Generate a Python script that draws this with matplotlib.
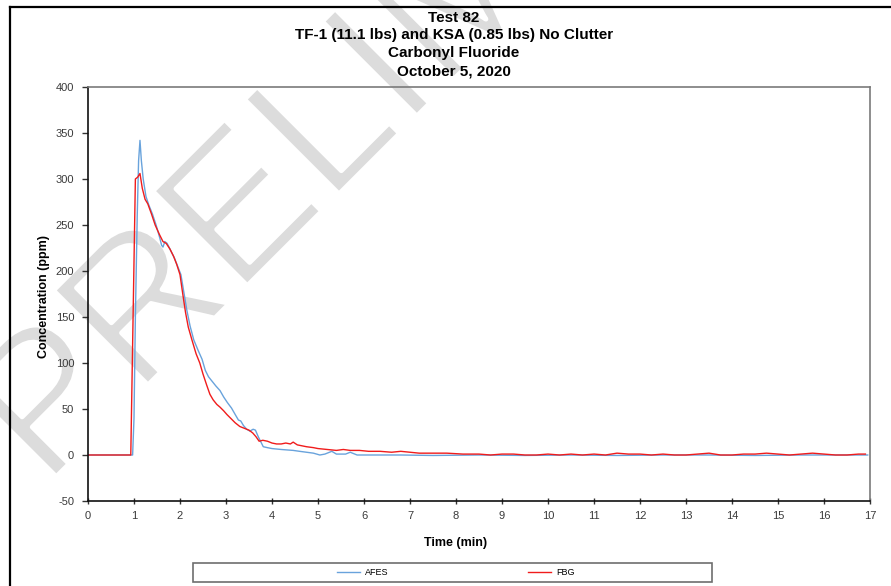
import matplotlib
matplotlib.use("Agg")
import matplotlib.pyplot as plt
import matplotlib.patheffects as pe
from matplotlib.lines import Line2D
from matplotlib.patches import Rectangle

plt.rcParams['font.family'] = ['Liberation Sans', 'DejaVu Sans']
plt.rcParams['axes.unicode_minus'] = False

TITLE_LINES = ["Test 82",
               "TF-1 (11.1 lbs) and KSA (0.85 lbs) No Clutter",
               "Carbonyl Fluoride",
               "October 5, 2020"]
X_LABEL = "Time (min)"
Y_LABEL = "Concentration (ppm)"
WATERMARK = "PRELIMINARY"

x_ticks = list(range(0, 18))
y_ticks = [-50, 0, 50, 100, 150, 200, 250, 300, 350, 400]

# AFES analyser, carbonyl fluoride (ppm) vs time (min)
afes_t = [0, 0.5, 0.97, 1.0, 1.03, 1.07, 1.1, 1.13, 1.16, 1.2, 1.26, 1.32, 1.4, 1.48,
          1.56, 1.6, 1.63, 1.67, 1.72, 1.8, 1.88, 1.95, 2.02, 2.08, 2.15, 2.22, 2.3,
          2.4, 2.48, 2.55, 2.62, 2.7, 2.78, 2.87, 2.95, 3.03, 3.12, 3.2, 3.27, 3.32,
          3.38, 3.45, 3.52, 3.59, 3.64, 3.7, 3.76, 3.81, 3.9, 4.0, 4.2, 4.46, 4.6,
          4.75, 4.9, 5.04, 5.15, 5.3, 5.4, 5.6, 5.7, 5.85, 6.2, 6.8, 7.5, 8.5, 9.5,
          10.5, 11.5, 12.5, 13.5, 14.5, 15.5, 16.5, 16.95]
afes_c = [0, 0, 0, 40, 150, 260, 320, 342, 320, 300, 281, 272, 262, 250,
          236, 228, 226, 232, 230, 222, 214, 205, 196, 178, 157, 140, 125,
          113, 104, 92, 85, 80, 75, 70, 63, 57, 51, 44, 38, 37,
          32, 28, 26, 28, 27, 20, 14, 9, 8, 7, 6, 5, 4,
          3, 2, 0, 1, 4, 1, 1, 3, 0, 0, 0, -0.5, 0, -0.5,
          0, -0.5, 0, 0, -0.5, 0, 0, 0]

# FBG analyser
fbg_t = [0, 0.5, 0.93, 0.98, 1.03, 1.08, 1.13, 1.18, 1.24, 1.3, 1.38, 1.46, 1.55,
         1.63, 1.7, 1.78, 1.86, 1.93, 2.0, 2.06, 2.12, 2.18, 2.26, 2.35, 2.43, 2.5,
         2.58, 2.65, 2.72, 2.8, 2.87, 2.95, 3.02, 3.1, 3.2, 3.3, 3.4, 3.5, 3.58,
         3.65, 3.72, 3.8, 3.9, 4.0, 4.1, 4.2, 4.3, 4.4, 4.46, 4.55, 4.65, 4.75,
         4.9, 5.0, 5.2, 5.4, 5.55, 5.7, 5.9, 6.1, 6.35, 6.6, 6.8, 7.0, 7.2, 7.5,
         7.8, 8.15, 8.5, 8.75, 9.0, 9.25, 9.5, 9.75, 10.0, 10.25, 10.5, 10.75,
         11.0, 11.25, 11.5, 11.75, 12.0, 12.25, 12.5, 12.75, 13.0, 13.25, 13.5,
         13.75, 14.0, 14.25, 14.5, 14.75, 15.0, 15.25, 15.5, 15.75, 16.0, 16.25,
         16.5, 16.75, 16.9]
fbg_c = [0, 0, 0, 150, 300, 302, 306, 290, 278, 273, 262, 250, 240,
         232, 230, 224, 216, 207, 196, 175, 155, 139, 125, 110, 100, 88,
         76, 66, 60, 55, 52, 48, 44, 40, 35, 31, 29, 27, 24,
         20, 15, 16, 15, 13, 12, 12, 13, 12, 14, 11, 10, 9,
         8, 7, 6, 5, 6, 5, 5, 4, 4, 3, 4, 3, 2, 2,
         2, 1, 1, 0, 1, 1, 0, 0, 1, 0, 1, 0,
         1, 0, 2, 1, 1, 0, 1, 0, 0, 1, 2,
         0, 0, 1, 1, 2, 1, 0, 1, 2, 1, 0,
         0, 1, 1]

AFES_COLOR = '#69a3dc'
FBG_COLOR = '#f01c1c'

W, H = 891, 586
fig = plt.figure(figsize=(W / 100, H / 100), dpi=100)


def fx(px):
    return px / W


def fy(py):
    return 1 - py / H


# big diagonal watermark behind everything; a white outline thins the glyphs
fig.text(fx(45), fy(488), WATERMARK, fontsize=140, color='#dcdcdc',
         rotation=45, rotation_mode='anchor', ha='left', va='baseline', zorder=-5,
         path_effects=[pe.Normal(), pe.Stroke(linewidth=3.5, foreground='white')])

# outer chart border (runs off the right and bottom)
fig.add_artist(Line2D([fx(10), fx(10)], [fy(7), 0], color='black', lw=1.6))
fig.add_artist(Line2D([fx(10), 1], [fy(7), fy(7)], color='black', lw=1.6))

ax = fig.add_axes([fx(88), fy(501), fx(870) - fx(88), fy(87) - fy(501)])
ax.patch.set_alpha(0)

ax.plot(afes_t, afes_c, color=AFES_COLOR, lw=1.0, label='AFES')
ax.plot(fbg_t, fbg_c, color=FBG_COLOR, lw=1.0, label='FBG')

ax.set_xlim(0, 17)
ax.set_ylim(-50, 400)
ax.set_xticks(x_ticks)
ax.set_yticks(y_ticks)

for side in ['left', 'bottom']:
    ax.spines[side].set_color('#111111')
    ax.spines[side].set_linewidth(1.2)
for side in ['top', 'right']:
    ax.spines[side].set_color('#7a7a7a')
    ax.spines[side].set_linewidth(1.2)

ax.tick_params(axis='x', direction='inout', length=5, width=1, pad=5,
               labelsize=8, labelcolor='#3a3a3a', color='#333333')
ax.tick_params(axis='y', direction='out', length=4, width=1, pad=6,
               labelsize=8, labelcolor='#3a3a3a', color='#333333')

ax.set_xlabel(X_LABEL, fontsize=9, fontweight='bold')
ax.xaxis.set_label_coords((456 - 88) / 782, (501 - 537) / 414)
ax.set_ylabel(Y_LABEL, fontsize=9, fontweight='bold')
ax.yaxis.set_label_coords((50 - 88) / 782, (501 - 297) / 414)

baselines = [22, 39.5, 57.3, 75]
for line, base in zip(TITLE_LINES, baselines):
    fig.text(fx(454), fy(base), line, fontsize=11, fontweight='bold',
             ha='center', va='baseline')

# legend strip under the axis title
fig.add_artist(Rectangle((fx(193), fy(582)), fx(712) - fx(193), fy(563) - fy(582),
                         transform=fig.transFigure, fill=False,
                         edgecolor='#6e6e6e', lw=1.2))
ax.legend(loc='center', bbox_to_anchor=(fx(456), fy(572.5)),
          bbox_transform=fig.transFigure, ncol=2, frameon=False,
          fontsize=6.5, handlelength=2.5, handletextpad=0.6,
          columnspacing=15.5, borderpad=0)

fig.savefig('out.png', dpi=100)
